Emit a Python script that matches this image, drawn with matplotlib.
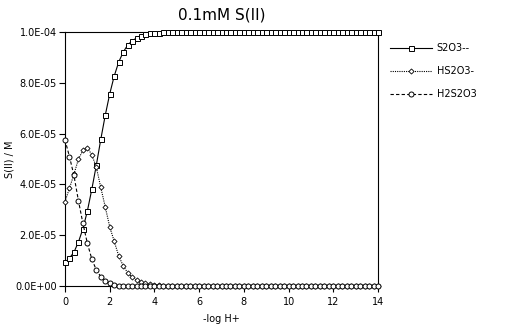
import matplotlib
matplotlib.use("Agg")
import matplotlib.pyplot as plt
import numpy as np

# -log H+ values (step 0.2 from 0 to 14)
ph = [0.0, 0.2, 0.4, 0.6, 0.8, 1.0, 1.2, 1.4, 1.6, 1.8,
      2.0, 2.2, 2.4, 2.6, 2.8, 3.0, 3.2, 3.4, 3.6, 3.8,
      4.0, 4.2, 4.4, 4.6, 4.8, 5.0, 5.2, 5.4, 5.6, 5.8,
      6.0, 6.2, 6.4, 6.6, 6.8, 7.0, 7.2, 7.4, 7.6, 7.8,
      8.0, 8.2, 8.4, 8.6, 8.8, 9.0, 9.2, 9.4, 9.6, 9.8,
      10.0, 10.2, 10.4, 10.6, 10.8, 11.0, 11.2, 11.4, 11.6, 11.8,
      12.0, 12.2, 12.4, 12.6, 12.8, 13.0, 13.2, 13.4, 13.6, 13.8,
      14.0]

s2o3 = [9.3e-6, 1.10e-5, 1.33e-5, 1.73e-5, 2.25e-5, 2.95e-5, 3.81e-5, 4.75e-5, 5.77e-5, 6.72e-5,
        7.56e-5, 8.26e-5, 8.81e-5, 9.20e-5, 9.48e-5, 9.65e-5, 9.76e-5, 9.84e-5, 9.90e-5, 9.94e-5,
        9.96e-5, 9.975e-5, 9.985e-5, 9.99e-5, 9.995e-5, 1.0e-4, 1.0e-4, 1.0e-4, 1.0e-4, 1.0e-4,
        1.0e-4, 1.0e-4, 1.0e-4, 1.0e-4, 1.0e-4, 1.0e-4, 1.0e-4, 1.0e-4, 1.0e-4, 1.0e-4,
        1.0e-4, 1.0e-4, 1.0e-4, 1.0e-4, 1.0e-4, 1.0e-4, 1.0e-4, 1.0e-4, 1.0e-4, 1.0e-4,
        1.0e-4, 1.0e-4, 1.0e-4, 1.0e-4, 1.0e-4, 1.0e-4, 1.0e-4, 1.0e-4, 1.0e-4, 1.0e-4,
        1.0e-4, 1.0e-4, 1.0e-4, 1.0e-4, 1.0e-4, 1.0e-4, 1.0e-4, 1.0e-4, 1.0e-4, 1.0e-4,
        1.0e-4]

hs2o3 = [3.32e-5, 3.85e-5, 4.40e-5, 4.99e-5, 5.34e-5, 5.45e-5, 5.16e-5, 4.68e-5, 3.88e-5, 3.11e-5,
         2.33e-5, 1.76e-5, 1.19e-5, 8.0e-6, 5.2e-6, 3.5e-6, 2.4e-6, 1.6e-6, 1.0e-6, 6e-7,
         4e-7, 2.5e-7, 1.5e-7, 1e-7, 6e-8, 4e-8, 0.0, 0.0, 0.0, 0.0,
         0.0, 0.0, 0.0, 0.0, 0.0, 0.0, 0.0, 0.0, 0.0, 0.0,
         0.0, 0.0, 0.0, 0.0, 0.0, 0.0, 0.0, 0.0, 0.0, 0.0,
         0.0, 0.0, 0.0, 0.0, 0.0, 0.0, 0.0, 0.0, 0.0, 0.0,
         0.0, 0.0, 0.0, 0.0, 0.0, 0.0, 0.0, 0.0, 0.0, 0.0,
         0.0]

h2s2o3 = [5.75e-5, 5.09e-5, 4.35e-5, 3.36e-5, 2.47e-5, 1.68e-5, 1.06e-5, 6.3e-6, 3.7e-6, 2.0e-6,
          1.1e-6, 5e-7, 2e-7, 1e-7, 0.0, 0.0, 0.0, 0.0, 0.0, 0.0,
          0.0, 0.0, 0.0, 0.0, 0.0, 0.0, 0.0, 0.0, 0.0, 0.0,
          0.0, 0.0, 0.0, 0.0, 0.0, 0.0, 0.0, 0.0, 0.0, 0.0,
          0.0, 0.0, 0.0, 0.0, 0.0, 0.0, 0.0, 0.0, 0.0, 0.0,
          0.0, 0.0, 0.0, 0.0, 0.0, 0.0, 0.0, 0.0, 0.0, 0.0,
          0.0, 0.0, 0.0, 0.0, 0.0, 0.0, 0.0, 0.0, 0.0, 0.0,
          0.0]

x_ticks = [0, 2, 4, 6, 8, 10, 12, 14]
y_ticks = [0.0, 2.0e-5, 4.0e-5, 6.0e-5, 8.0e-5, 1.0e-4]
y_tick_labels = ["0.0E+00", "2.0E-05", "4.0E-05", "6.0E-05", "8.0E-05", "1.0E-04"]

plt.rcParams['font.family'] = ['DejaVu Sans']
fig = plt.figure(figsize=(5.2, 3.3), dpi=100)
ax = fig.add_axes([0.125, 0.1333, 0.602, 0.770])

lw = 0.8
ax.plot(ph, s2o3, color='black', lw=lw, ls='-', marker='s', ms=3.6,
        mfc='white', mec='black', mew=0.7, label='S2O3--', clip_on=False, zorder=3)
ax.plot(ph, hs2o3, color='black', lw=lw, ls=(0, (1, 1)), marker='D', ms=2.6,
        mfc='white', mec='black', mew=0.6, label='HS2O3-', clip_on=False, zorder=3)
ax.plot(ph, h2s2o3, color='black', lw=lw, ls=(0, (3, 2)), marker='o', ms=3.6,
        mfc='white', mec='black', mew=0.7, label='H2S2O3', clip_on=False, zorder=3)

ax.set_xlim(0, 14)
ax.set_ylim(0, 1.0e-4)
ax.set_xticks(x_ticks)
ax.set_xticklabels([str(t) for t in x_ticks])
ax.set_yticks(y_ticks)
ax.set_yticklabels(y_tick_labels)
ax.tick_params(axis='both', direction='out', length=4, width=0.8, labelsize=7, pad=2, colors='black')
ax.tick_params(axis='x', pad=4)
for sp in ax.spines.values():
    sp.set_linewidth(0.8)
    sp.set_color('black')

ax.set_xlabel('-log H+', fontsize=7, labelpad=5)
ax.set_ylabel('S(II) / M', fontsize=7)
ax.yaxis.set_label_coords(-0.16, 0.5)
fig.text(0.426, 0.955, '0.1mM S(II)', ha='center', va='center', fontsize=11)

leg = ax.legend(loc='upper left', bbox_to_anchor=(1.01, 0.99), frameon=False,
                fontsize=7, handlelength=4.3, labelspacing=1.35, handletextpad=0.5)

fig.savefig('out.png', dpi=100)
